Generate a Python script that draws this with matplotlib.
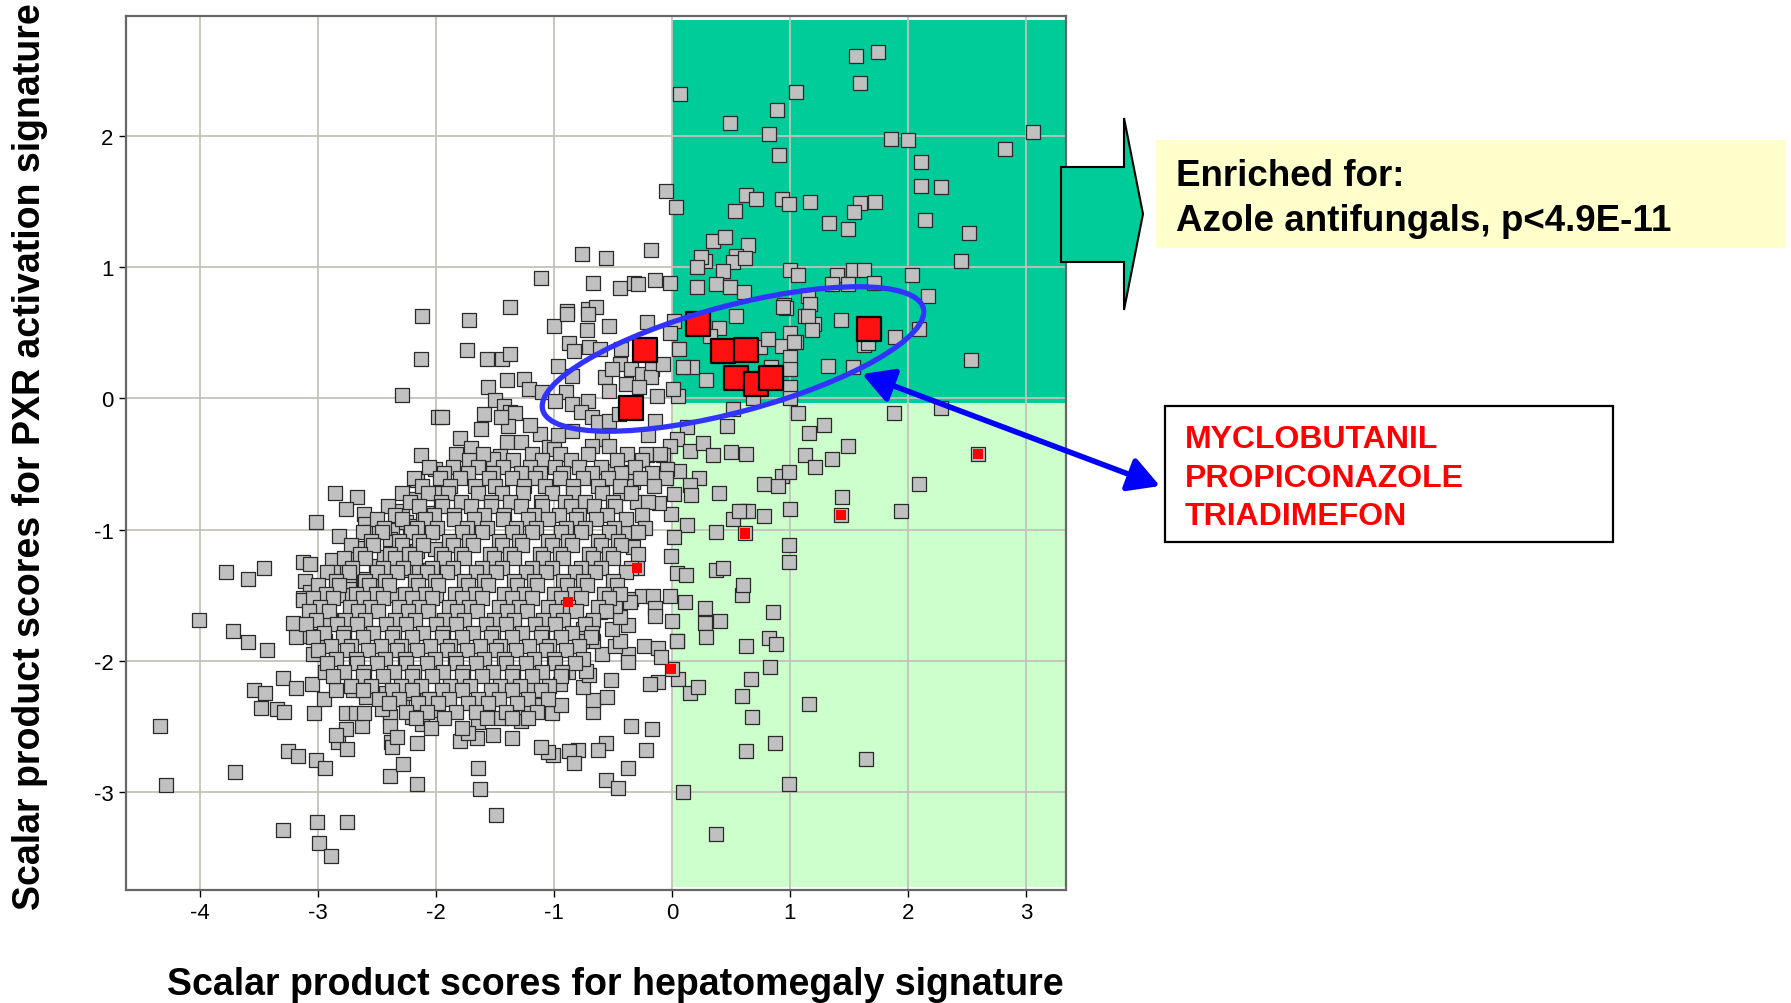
import matplotlib
matplotlib.use("Agg")
import matplotlib.pyplot as plt
from matplotlib.patches import Rectangle, Polygon, Ellipse, FancyArrowPatch
from matplotlib.transforms import IdentityTransform

# ---------------- data ----------------
X_TICKS = [-4, -3, -2, -1, 0, 1, 2, 3]
Y_TICKS = [-3, -2, -1, 0, 1, 2]
X_LIM = (-4.627, 3.339)
Y_LIM = (-3.747, 2.915)

# gray compounds, upper-right (dark green) quadrant
PTS_GREEN_UP = [
    (0.07, 2.32), (0.49, 2.10), (-0.05, 1.58), (0.03, 1.46), (0.63, 1.55), (0.53, 1.43),
    (0.35, 1.20), (0.45, 1.23), (0.64, 1.17), (0.54, 1.09), (0.28, 1.05), (0.25, 1.08),
    (0.52, 1.04), (0.62, 1.07), (0.21, 1.00), (0.43, 0.97), (0.21, 0.85), (0.37, 0.87),
    (0.49, 0.85), (0.61, 0.81), (1.56, 2.61), (1.75, 2.64), (1.59, 2.41), (1.05, 2.34),
    (0.89, 2.20), (0.82, 2.02), (0.91, 1.86), (1.86, 1.98), (2.00, 1.97), (3.06, 2.03),
    (2.82, 1.90), (2.11, 1.80), (2.11, 1.62), (2.28, 1.61), (0.71, 1.52), (0.93, 1.52),
    (0.99, 1.48), (1.17, 1.50), (1.59, 1.49), (1.72, 1.50), (1.54, 1.42), (1.33, 1.34),
    (1.49, 1.29), (2.14, 1.36), (2.52, 1.26), (2.45, 1.05), (1.00, 0.98), (1.07, 0.94),
    (1.40, 0.94), (1.53, 0.98), (1.63, 0.98), (1.36, 0.87), (1.49, 0.87), (1.71, 0.88),
    (2.03, 0.94), (2.17, 0.78), (1.15, 0.78), (0.95, 0.71), (1.17, 0.72), (0.97, 0.69),
    (1.13, 0.63), (1.20, 0.57), (1.43, 0.60), (1.63, 0.41), (1.89, 0.47), (2.09, 0.53),
    (2.53, 0.29), (1.32, 0.25), (1.53, 0.24), (1.00, 0.50), (0.93, 0.40), (1.05, 0.43),
    (1.00, 0.32), (1.00, 0.225), (1.00, 0.085), (1.00, 0.00), (0.69, 0.00), (0.84, 0.24),
    (0.75, 0.39), (0.54, 0.63), (0.40, 0.54), (0.32, 0.48), (0.29, 0.14), (0.17, 0.24),
    (0.06, 0.38), (0.02, 0.59), (-0.02, 0.50), (0.05, 0.02), (0.01, 0.07), (0.81, 0.45),
    (0.94, 0.70), (1.15, 0.63), (1.19, 0.52), (1.03, 0.43), (1.66, 0.42), (0.09, 0.24),
]

# gray compounds, lower-right (light green) quadrant
PTS_GREEN_LOW = [
    (0.52, -0.08), (0.47, -0.21), (0.13, -0.22), (0.04, -0.31), (-0.02, -0.36), (0.15, -0.40),
    (0.26, -0.34), (0.35, -0.43), (0.50, -0.41), (0.63, -0.42), (1.07, -0.11), (1.88, -0.11),
    (2.28, -0.07), (1.29, -0.20), (1.16, -0.26), (1.49, -0.36), (1.13, -0.43), (1.36, -0.46),
    (1.21, -0.52), (2.59, -0.42), (2.09, -0.65), (0.93, -0.59), (0.99, -0.56), (0.78, -0.65),
    (0.90, -0.67), (1.44, -0.75), (1.43, -0.89), (1.94, -0.86), (1.00, -0.84), (0.78, -0.90),
    (0.60, -0.86), (0.64, -0.86), (0.62, -1.03), (0.99, -1.12), (0.99, -1.25), (0.59, -1.50),
    (0.86, -1.63), (0.82, -1.83), (0.63, -1.89), (0.83, -2.05), (0.67, -2.14), (1.16, -2.33),
    (0.59, -2.27), (0.68, -2.43), (0.87, -2.63), (0.63, -2.69), (1.64, -2.75), (0.99, -2.94),
    (0.11, -1.55), (0.28, -1.60), (0.28, -1.71), (0.41, -1.70), (0.29, -1.82), (0.04, -1.85),
    (0.05, -2.14), (0.15, -2.25), (0.22, -2.20), (0.09, -3.00), (0.37, -3.32), (0.00, -2.06),
    (0.06, -0.55), (0.23, -0.61), (0.15, -0.66), (0.40, -0.72), (0.16, -0.74), (0.02, -0.73),
    (-0.01, -0.88), (0.13, -0.965), (0.02, -1.06), (0.37, -1.02), (0.52, -0.92), (0.57, -0.86),
    (-0.01, -1.20), (0.04, -1.33), (0.12, -1.35), (0.37, -1.31), (0.43, -1.29), (0.60, -1.42),
    (0.00, -1.70), (0.88, -1.87),
]

# gray compounds, upper part of the left half
PTS_LEFT_UP = [
    (-0.76, 1.10), (-0.56, 1.07), (-0.18, 1.13), (-1.11, 0.92), (-0.67, 0.88), (-0.44, 0.84),
    (-0.32, 0.88), (-0.29, 0.87), (-0.14, 0.90), (-0.02, 0.88), (-1.37, 0.70), (-0.89, 0.67),
    (-0.71, 0.68), (-0.64, 0.70), (-2.12, 0.63), (-2.13, 0.30), (-2.29, 0.03), (-1.98, -0.14),
    (-1.72, 0.60), (-1.74, 0.37), (-1.57, 0.30), (-1.44, 0.30), (-1.37, 0.34), (-1.56, 0.09),
    (-1.40, 0.14), (-1.25, 0.15), (-1.21, 0.07), (-1.10, 0.05), (-1.50, -0.01), (-1.42, -0.06),
    (-1.37, -0.105), (-1.33, -0.11), (-1.59, -0.12), (-1.62, -0.23), (-1.39, -0.21), (-1.45, -0.14),
    (-1.95, -0.14), (-1.40, -0.33), (-1.28, -0.33), (-1.46, -0.44), (-1.52, -0.46), (-1.12, -0.27),
    (-1.04, -0.37), (-1.00, -0.385), (-0.97, -0.28), (-1.00, 0.555), (-0.89, 0.645), (-0.71, 0.645),
    (-0.53, 0.555), (-0.72, 0.52), (-0.87, 0.42), (-0.83, 0.365), (-0.97, 0.25), (-0.85, 0.17),
    (-0.90, 0.05), (-0.99, -0.02), (-0.85, -0.04), (-0.71, -0.02), (-0.77, -0.105), (-0.70, 0.39),
    (-0.61, 0.38), (-0.57, 0.16), (-0.53, 0.06), (-0.43, 0.38), (-0.44, 0.26), (-0.51, 0.225),
    (-0.35, 0.225), (-0.39, 0.11), (-0.25, 0.19), (-0.17, 0.225), (-0.18, 0.16), (-0.08, 0.26),
    (-0.28, 0.085), (-0.68, -0.145), (-0.63, -0.18), (-0.53, -0.17), (-0.59, -0.31), (-0.68, -0.36),
    (-0.53, -0.36), (-0.13, 0.02), (-0.14, -0.17), (-0.21, 0.58), (-0.21, -0.43), (-0.08, -0.43),
    (-0.04, -0.54), (-0.05, -0.61), (-0.11, -0.80), (-0.22, -0.42), (-0.33, -0.64), (-0.30, -0.79),
    (-0.37, -1.02), (-0.33, -1.135), (-0.52, -0.55), (-0.44, -0.72), (-0.35, -0.56), (-0.30, -1.29),
    (-1.80, -0.30), (-1.70, -0.38), (-1.20, -0.20), (-0.85, -0.25), (-0.45, -0.12), (-0.20, -0.28),
]

# gray compounds, left flank of the main cloud
PTS_LEFT_MID = [
    (-2.13, -0.43), (-2.16, -0.62), (-2.18, -0.77), (-2.29, -0.86), (-2.01, -0.54), (-2.86, -0.72),
    (-2.67, -0.75), (-2.76, -0.84), (-2.61, -0.88), (-2.60, -0.96), (-3.02, -0.94), (-2.82, -1.05),
    (-2.67, -1.14), (-2.67, -1.20), (-2.37, -1.00), (-2.88, -1.23), (-2.85, -1.32), (-3.13, -1.25),
    (-3.07, -1.26), (-3.11, -1.39), (-3.07, -1.48), (-3.13, -1.52), (-3.78, -1.32), (-3.59, -1.38),
    (-3.46, -1.29), (-2.75, -1.30), (-2.74, -1.38), (-2.74, -1.45), (-2.51, -1.28), (-2.44, -1.21),
    (-2.56, -1.02), (-2.48, -1.00), (-2.22, -1.02), (-2.11, -0.995), (-2.03, -1.02), (-2.30, -1.16),
    (-2.16, -1.16), (-2.01, -1.15), (-2.39, -1.07), (-2.25, -0.94), (-2.21, -0.97), (-2.11, -0.89),
    (-2.04, -0.87), (-2.01, -0.72), (-2.51, -1.38), (-2.48, -1.40), (-2.43, -1.39), (-2.32, -1.31),
    (-2.24, -1.31), (-2.14, -1.31), (-2.05, -1.31), (-2.61, -1.38), (-2.82, -1.50), (-2.71, -1.50),
    (-2.54, -1.50), (-2.34, -1.50), (-2.23, -1.50), (-2.11, -1.50), (-2.00, -1.50),
]

# gray compounds, lower-left
PTS_LEFT_LOW = [
    (-4.01, -1.69), (-3.72, -1.77), (-3.59, -1.86), (-3.43, -1.92), (-3.30, -2.13), (-3.19, -2.21),
    (-3.54, -2.22), (-3.45, -2.25), (-3.48, -2.36), (-3.35, -2.37), (-3.29, -2.39), (-4.34, -2.50),
    (-4.29, -2.95), (-3.70, -2.85), (-3.25, -2.69), (-3.17, -2.73), (-3.02, -2.76), (-2.94, -2.82),
    (-3.30, -3.29), (-3.01, -3.23), (-2.99, -3.39), (-2.89, -3.49), (-2.75, -3.23), (-2.39, -2.88),
    (-2.28, -2.79), (-2.16, -2.94), (-2.16, -2.63), (-2.38, -2.62), (-2.37, -2.66), (-2.83, -2.62),
    (-2.75, -2.67), (-2.76, -2.52), (-2.85, -2.57), (-2.63, -2.50), (-3.03, -2.40), (-2.76, -2.40),
    (-2.68, -2.40), (-2.61, -2.40), (-2.39, -2.42), (-2.39, -2.50), (-2.20, -2.43), (-2.12, -2.48),
    (-2.33, -2.58), (-2.46, -2.37), (-2.95, -2.29), (-3.05, -2.18), (-2.94, -2.09), (-3.04, -1.95),
    (-3.13, -1.54), (-3.21, -1.71), (-3.19, -1.82), (-3.07, -1.81), (-2.98, -1.67), (-2.90, -1.69),
    (-2.94, -1.85), (-2.85, -2.22), (-2.70, -2.22), (-2.59, -2.22), (-2.59, -2.28), (-2.42, -2.25),
    (-2.29, -2.29), (-2.22, -2.25), (-2.08, -2.29), (-2.03, -2.38),
]

# gray compounds, bottom centre
PTS_BOTTOM_MID = [
    (-0.52, -2.15), (-0.35, -2.50), (-0.17, -2.52), (-0.22, -2.68), (-0.37, -2.82), (-0.56, -2.91),
    (-0.46, -2.97), (-0.56, -2.63), (-0.63, -2.68), (-0.80, -2.68), (-0.87, -2.69), (-0.83, -2.78),
    (-1.01, -2.72), (-1.05, -2.70), (-1.11, -2.66), (-1.64, -2.82), (-1.63, -2.98), (-1.49, -3.18),
    (-1.36, -2.59), (-1.52, -2.57), (-1.80, -2.61), (-1.65, -2.59), (-1.28, -2.46), (-1.45, -2.44),
    (-1.64, -2.47), (-1.73, -2.55), (-1.02, -2.40), (-0.94, -2.34), (-0.67, -2.39), (-0.67, -2.30),
    (-0.55, -2.28), (-0.75, -2.20), (-0.70, -2.11), (-0.73, -2.08), (-0.95, -2.18), (-0.88, -2.09),
    (-1.19, -2.21), (-1.16, -2.34), (-1.22, -2.36), (-0.37, -1.95), (-0.37, -2.01), (-0.59, -1.95),
    (-0.48, -1.89), (-0.44, -1.85), (-0.51, -1.76), (-0.37, -1.73), (-0.44, -1.67), (-0.48, -1.58),
    (-0.35, -1.53), (-0.25, -1.51), (-0.16, -1.51), (-0.02, -1.51), (-0.36, -1.55), (-0.61, -1.63),
    (-0.68, -1.71), (-0.75, -1.76), (-0.67, -1.85), (-0.76, -1.85), (-0.14, -1.60), (-0.14, -1.66),
    (0.04, -1.85), (-0.24, -1.89), (-0.12, -1.90), (-0.09, -1.97), (-0.12, -2.16), (-0.19, -2.18),
    (-0.88, -1.55),
]

# dense core of the cloud: rows (y, x positions)
DENSE_ROWS = [
    (-0.42, [-1.83, -1.60, -1.19, -0.95, -0.71, -0.38, -0.10]),
    (-0.47, [-1.72, -1.35, -1.10, -0.86, -0.47, -0.25]),
    (-0.52, [-2.06, -1.86, -1.64, -1.43, -1.20, -0.99, -0.79, -0.60, -0.31]),
    (-0.57, [-1.93, -1.73, -1.52, -1.28, -1.12, -0.92, -0.68, -0.43, -0.17]),
    (-0.61, [-2.19, -1.97, -1.80, -1.55, -1.36, -1.16, -0.95, -0.75, -0.54, -0.27]),
    (-0.67, [-2.12, -1.88, -1.67, -1.50, -1.25, -1.08, -0.84, -0.63, -0.44, -0.15]),
    (-0.72, [-2.29, -2.07, -1.90, -1.64, -1.44, -1.26, -1.02, -0.84, -0.59, -0.35]),
    (-0.79, [-2.22, -1.96, -1.79, -1.53, -1.37, -1.11, -0.91, -0.74, -0.50, -0.20]),
    (-0.82, [-2.41, -2.14, -1.95, -1.70, -1.53, -1.28, -1.10, -0.86, -0.66, -0.48]),
    (-0.89, [-2.35, -2.02, -1.85, -1.59, -1.42, -1.17, -0.96, -0.79, -0.55, -0.25]),
    (-0.92, [-2.50, -2.29, -2.09, -1.85, -1.68, -1.43, -1.22, -1.05, -0.81, -0.64, -0.39]),
    (-0.99, [-2.44, -2.16, -1.99, -1.74, -1.57, -1.32, -1.15, -0.90, -0.74, -0.49, -0.23]),
    (-1.02, [-2.62, -2.46, -2.21, -2.03, -1.78, -1.61, -1.36, -1.19, -0.94, -0.77, -0.53, -0.29]),
    (-1.09, [-2.55, -2.31, -2.14, -1.89, -1.72, -1.47, -1.30, -1.05, -0.88, -0.63, -0.46]),
    (-1.12, [-2.72, -2.53, -2.29, -2.11, -1.86, -1.69, -1.44, -1.27, -1.02, -0.85, -0.60, -0.43]),
    (-1.19, [-2.64, -2.39, -2.23, -1.96, -1.79, -1.54, -1.37, -1.12, -0.95, -0.70, -0.53, -0.29]),
    (-1.22, [-2.78, -2.60, -2.35, -2.18, -1.93, -1.76, -1.51, -1.34, -1.09, -0.92, -0.67, -0.50]),
    (-1.29, [-2.71, -2.45, -2.28, -2.03, -1.86, -1.61, -1.44, -1.19, -1.02, -0.77, -0.60, -0.35]),
    (-1.32, [-2.92, -2.74, -2.50, -2.33, -2.08, -1.91, -1.66, -1.49, -1.24, -1.07, -0.82, -0.65, -0.39]),
    (-1.39, [-2.85, -2.60, -2.43, -2.18, -2.01, -1.76, -1.59, -1.34, -1.17, -0.92, -0.75, -0.50]),
    (-1.42, [-3.00, -2.82, -2.57, -2.40, -2.15, -1.98, -1.73, -1.56, -1.31, -1.14, -0.89, -0.72, -0.47]),
    (-1.49, [-2.93, -2.68, -2.51, -2.26, -2.09, -1.84, -1.67, -1.42, -1.25, -1.00, -0.83, -0.58, -0.44]),
    (-1.52, [-3.04, -2.87, -2.62, -2.45, -2.20, -2.03, -1.78, -1.61, -1.36, -1.19, -0.94, -0.77, -0.53]),
    (-1.59, [-2.98, -2.73, -2.56, -2.31, -2.14, -1.89, -1.72, -1.47, -1.30, -1.05, -0.88, -0.63]),
    (-1.62, [-3.08, -2.91, -2.66, -2.49, -2.24, -2.07, -1.82, -1.65, -1.40, -1.23, -0.98, -0.81, -0.56]),
    (-1.69, [-3.02, -2.77, -2.60, -2.35, -2.18, -1.93, -1.76, -1.51, -1.34, -1.09, -0.92, -0.67]),
    (-1.72, [-3.10, -2.84, -2.67, -2.42, -2.25, -2.00, -1.83, -1.58, -1.41, -1.16, -0.99, -0.74]),
    (-1.79, [-2.95, -2.78, -2.53, -2.36, -2.11, -1.94, -1.69, -1.52, -1.27, -1.10, -0.85, -0.68]),
    (-1.82, [-3.04, -2.79, -2.62, -2.37, -2.20, -1.95, -1.78, -1.53, -1.36, -1.11, -0.94, -0.69]),
    (-1.89, [-2.89, -2.72, -2.47, -2.30, -2.05, -1.88, -1.63, -1.46, -1.21, -1.04, -0.79]),
    (-1.92, [-3.00, -2.75, -2.58, -2.33, -2.16, -1.91, -1.74, -1.49, -1.32, -1.07, -0.90]),
    (-1.99, [-2.85, -2.68, -2.43, -2.26, -2.01, -1.84, -1.59, -1.42, -1.17, -1.00, -0.75]),
    (-2.02, [-2.92, -2.67, -2.50, -2.25, -2.08, -1.83, -1.66, -1.41, -1.24, -0.99, -0.82]),
    (-2.09, [-2.78, -2.61, -2.36, -2.19, -1.94, -1.77, -1.52, -1.35, -1.10, -0.93]),
    (-2.12, [-2.87, -2.62, -2.45, -2.20, -2.03, -1.78, -1.61, -1.36, -1.19, -0.94]),
    (-2.19, [-2.72, -2.55, -2.30, -2.13, -1.88, -1.71, -1.46, -1.29, -1.04]),
    (-2.22, [-2.62, -2.37, -2.20, -1.95, -1.78, -1.53, -1.36, -1.11]),
    (-2.29, [-2.48, -2.31, -2.06, -1.89, -1.64, -1.47, -1.22, -1.05]),
    (-2.32, [-2.40, -2.15, -1.98, -1.73, -1.56, -1.31]),
    (-2.39, [-2.25, -2.08, -1.83, -1.66, -1.41, -1.14]),
    (-2.44, [-2.17, -1.93, -1.57, -1.36, -1.22]),
    (-2.51, [-2.04, -1.78]),
]

# azole antifungals (highlighted)
RED_BIG_X = [-0.23, -0.35, 0.22, 0.43, 0.63, 0.54, 0.71, 0.84, 1.67]
RED_BIG_Y = [0.37, -0.07, 0.57, 0.36, 0.37, 0.155, 0.11, 0.155, 0.53]
RED_SMALL_X = [0.62, -0.30, -0.88, -0.01, 1.43, 2.59]
RED_SMALL_Y = [-1.03, -1.29, -1.55, -2.06, -0.89, -0.42]

AZOLES = ["MYCLOBUTANIL", "PROPICONAZOLE", "TRIADIMEFON"]
ENRICH_LINES = ["Enriched for:", "Azole antifungals, p<4.9E-11"]
X_LABEL = "Scalar product scores for hepatomegaly signature"
Y_LABEL = "Scalar product scores for PXR activation signature"

# ---------------- drawing ----------------
W, H = 1791, 1004
plt.rcParams["font.family"] = ["Liberation Sans", "DejaVu Sans"]
fig = plt.figure(figsize=(W / 100, H / 100), dpi=100)
ax = fig.add_axes([126 / W, 1 - 890.7 / H, (1066 - 126) / W, (890.7 - 17.3) / H])
ax.set_xlim(*X_LIM)
ax.set_ylim(*Y_LIM)

# quadrant shading
ax.add_patch(Rectangle((0.0, -0.037), X_LIM[1], 2.887 + 0.037, facecolor="#00cc99",
                       edgecolor="none", zorder=0.2))
ax.add_patch(Rectangle((0.0, -3.724), X_LIM[1], 3.724 - 0.037, facecolor="#ccffcc",
                       edgecolor="none", zorder=0.2))

ax.set_axisbelow(True)
ax.grid(True, color="#c4c2ba", lw=1.3)

gx, gy = [], []
for grp in (PTS_GREEN_UP, PTS_GREEN_LOW, PTS_LEFT_UP, PTS_LEFT_MID, PTS_LEFT_LOW, PTS_BOTTOM_MID):
    for x, y in grp:
        gx.append(x)
        gy.append(y)
for y, xs in DENSE_ROWS:
    for x in xs:
        gx.append(x)
        gy.append(y)

ax.scatter(gx, gy, marker="s", s=88, c="#c0c0c0", edgecolors="#2a2a2a", linewidths=0.9, zorder=3)
ax.scatter(RED_SMALL_X, RED_SMALL_Y, marker="s", s=52, c="#ff0000", edgecolors="none", zorder=4)
ax.scatter(RED_BIG_X, RED_BIG_Y, marker="s", s=310, c="#ff1111", edgecolors="black",
           linewidths=1.6, zorder=5)

ax.set_xticks(X_TICKS)
ax.set_xticklabels([str(v) for v in X_TICKS])
ax.set_yticks(Y_TICKS)
ax.set_yticklabels([str(v) for v in Y_TICKS])
ax.tick_params(direction="out", length=5, width=1, labelsize=16, colors="black", pad=4)
for sp in ax.spines.values():
    sp.set_color("#666666")
    sp.set_linewidth(1.6)

# axis titles
fig.text(615 / W, 1 - 995 / H, X_LABEL, ha="center", va="baseline", fontsize=27, weight="bold")
fig.text(30 / W, 1 - 457 / H, Y_LABEL, ha="center", va="center", rotation=90,
         fontsize=27, weight="bold")

# ellipse around the azole cluster (pixel space)
fig.add_artist(Ellipse((733, H - 360), 394, 106, angle=15, transform=IdentityTransform(),
                       fill=False, edgecolor="#3333ff", lw=3.8, zorder=6))

# double-headed arrow to the name box
fig.add_artist(FancyArrowPatch((1160, H - 487), (862, H - 375),
                               arrowstyle="<|-|>,head_length=0.45,head_width=0.25",
                               mutation_scale=42, lw=4.0, color="#0000ff",
                               shrinkA=0, shrinkB=0, transform=IdentityTransform(), zorder=7))

# green block arrow
blk = [(1061, 168), (1124, 168), (1124, 119), (1143, 215), (1124, 311), (1124, 263), (1061, 263)]
fig.add_artist(Polygon([(x, H - y) for x, y in blk], closed=True, facecolor="#00cc99",
                       edgecolor="black", lw=1.5, transform=IdentityTransform(), zorder=7))

# yellow enrichment box
fig.add_artist(Rectangle((1156, H - 249), 630, 108, facecolor="#ffffcc", edgecolor="none",
                         transform=IdentityTransform(), zorder=1))
fig.text(1176 / W, 1 - 186 / H, ENRICH_LINES[0], ha="left", va="baseline", fontsize=26.5,
         weight="bold", zorder=2)
fig.text(1176 / W, 1 - 231 / H, ENRICH_LINES[1], ha="left", va="baseline", fontsize=26.5,
         weight="bold", zorder=2)

# red names box
fig.add_artist(Rectangle((1165, H - 543), 448, 136, facecolor="white", edgecolor="black",
                         lw=1.6, transform=IdentityTransform(), zorder=1))
for name, base in zip(AZOLES, [448, 487, 525]):
    fig.text(1185 / W, 1 - base / H, name, ha="left", va="baseline", fontsize=23,
             weight="bold", color="#ff0000", zorder=2)

fig.savefig("out.png", dpi=100)
